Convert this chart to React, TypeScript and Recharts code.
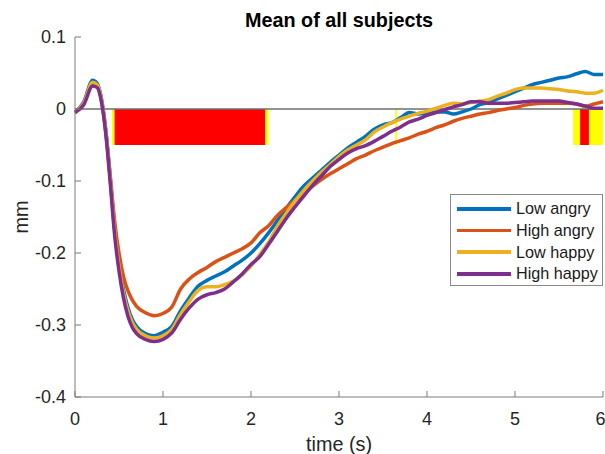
import React from "react";
import {
  LineChart,
  Line,
  XAxis,
  YAxis,
  ReferenceLine,
  ReferenceArea,
  Legend,
} from "recharts";

const times = [
  0, 0.1, 0.2, 0.25, 0.3, 0.35, 0.4, 0.45, 0.5, 0.55, 0.6, 0.65, 0.7, 0.8, 0.9,
  1.0, 1.1, 1.2, 1.3, 1.4, 1.5, 1.6, 1.7, 1.8, 1.9, 2.0, 2.1, 2.2, 2.3, 2.4,
  2.5, 2.6, 2.7, 2.8, 2.9, 3.0, 3.1, 3.2, 3.3, 3.4, 3.5, 3.6, 3.7, 3.8, 3.9,
  4.0, 4.1, 4.2, 4.3, 4.4, 4.5, 4.6, 4.7, 4.8, 4.9, 5.0, 5.1, 5.2, 5.3, 5.4,
  5.5, 5.6, 5.7, 5.8, 5.9, 6.0,
];

const lowAngry = [
  -0.005, 0.01, 0.04, 0.036, 0.015, -0.03, -0.095, -0.165, -0.215, -0.25,
  -0.275, -0.292, -0.302, -0.312, -0.315, -0.31, -0.302, -0.28, -0.262, -0.246,
  -0.238, -0.232, -0.226, -0.218, -0.21, -0.2, -0.187, -0.172, -0.155, -0.138,
  -0.122, -0.107, -0.096, -0.085, -0.074, -0.064, -0.054, -0.046, -0.038,
  -0.028, -0.022, -0.019, -0.012, -0.005, -0.007, -0.006, -0.004, -0.004,
  -0.007, -0.004, 0, 0.006, 0.009, 0.014, 0.019, 0.024, 0.029, 0.034, 0.037,
  0.04, 0.043, 0.045, 0.049, 0.052, 0.048, 0.048,
];

const highAngry = [
  -0.005, 0.008, 0.036, 0.033, 0.013, -0.03, -0.092, -0.155, -0.2, -0.232,
  -0.252, -0.265, -0.274, -0.283, -0.287, -0.284, -0.275, -0.25, -0.236,
  -0.227, -0.22, -0.212, -0.206, -0.2, -0.194, -0.186, -0.172, -0.162, -0.148,
  -0.137, -0.127, -0.117, -0.107, -0.098, -0.09, -0.083, -0.076, -0.069,
  -0.064, -0.058, -0.053, -0.048, -0.044, -0.04, -0.035, -0.031, -0.026,
  -0.022, -0.017, -0.013, -0.01, -0.007, -0.005, -0.002, 0, 0.002, 0.005,
  0.007, 0.008, 0.008, 0.008, 0.008, 0.007, 0.004, 0.007, 0.01,
];

const lowHappy = [
  -0.005, 0.008, 0.037, 0.034, 0.013, -0.032, -0.097, -0.168, -0.218, -0.255,
  -0.28, -0.296, -0.306, -0.315, -0.318, -0.315, -0.306, -0.285, -0.267,
  -0.252, -0.247, -0.247, -0.244, -0.239, -0.23, -0.218, -0.202, -0.185,
  -0.163, -0.145, -0.128, -0.113, -0.1, -0.088, -0.077, -0.066, -0.057, -0.05,
  -0.043, -0.032, -0.025, -0.019, -0.014, -0.01, -0.006, -0.003, 0.001, 0.005,
  0.008, 0.007, 0.009, 0.011, 0.013, 0.018, 0.022, 0.027, 0.029, 0.029, 0.029,
  0.028, 0.027, 0.025, 0.024, 0.022, 0.022, 0.026,
];

const highHappy = [
  -0.005, 0.006, 0.032, 0.03, 0.01, -0.035, -0.102, -0.175, -0.225, -0.262,
  -0.287, -0.303, -0.312, -0.32, -0.323, -0.32, -0.311, -0.292, -0.276,
  -0.264, -0.258, -0.255, -0.25, -0.24, -0.229, -0.216, -0.205, -0.188, -0.17,
  -0.152, -0.136, -0.121, -0.106, -0.093, -0.08, -0.07, -0.061, -0.055,
  -0.051, -0.045, -0.038, -0.031, -0.025, -0.018, -0.014, -0.009, -0.005,
  -0.001, 0.003, 0.006, 0.01, 0.01, 0.008, 0.008, 0.008, 0.009, 0.01, 0.011,
  0.011, 0.011, 0.011, 0.009, 0.007, 0.004, 0.001, 0.001,
];

// significance patches (time spans)
const yellowSpans = [
  [0.42, 2.2],
  [3.64, 3.66],
  [5.66, 6.0],
];
const redSpans = [
  [0.45, 2.16],
  [5.74, 5.84],
];

const xTicks = [0, 1, 2, 3, 4, 5, 6];
const yTicks = [-0.4, -0.3, -0.2, -0.1, 0, 0.1];

const series = [
  { key: "lowAngry", name: "Low angry", color: "#0072BD" },
  { key: "highAngry", name: "High angry", color: "#D95319" },
  { key: "lowHappy", name: "Low happy", color: "#EDB120" },
  { key: "highHappy", name: "High happy", color: "#7E2F8E" },
];

const data = times.map((t, i) => ({
  t,
  lowAngry: lowAngry[i],
  highAngry: highAngry[i],
  lowHappy: lowHappy[i],
  highHappy: highHappy[i],
}));

const FONT = "'Liberation Sans', Arial, Helvetica, sans-serif";
const AXIS = "#7a7a7a";

function renderLegend() {
  // keep plotting order (recharts sorts payload by name)
  return (
    <div
      style={{
        boxSizing: "border-box",
        width: 153,
        height: 92,
        border: "1px solid #8a8a8a",
        background: "#fff",
        paddingTop: 3,
        fontFamily: FONT,
        fontSize: 16.2,
        color: "#1a1a1a",
      }}
    >
      {series.map((s) => (
        <div
          key={s.key}
          style={{ height: 21.7, display: "flex", alignItems: "center" }}
        >
          <span
            style={{
              display: "inline-block",
              width: 54,
              height: 3.5,
              marginLeft: 6,
              marginRight: 5,
              background: s.color,
            }}
          />
          <span>{s.name}</span>
        </div>
      ))}
    </div>
  );
}

export default function App() {
  return (
    <div style={{ position: "absolute", left: 0, top: 0, background: "#fff" }}>
      <div
        style={{
          position: "absolute",
          left: 0,
          top: 9,
          width: 678,
          textAlign: "center",
          fontFamily: FONT,
          fontWeight: "bold",
          fontSize: 19.8,
          color: "#000",
          zIndex: 2,
        }}
      >
        Mean of all subjects
      </div>
      <LineChart
        width={605}
        height={454}
        data={data}
        margin={{ top: 37, right: 2, bottom: 0, left: 0 }}
        style={{ fontFamily: FONT }}
      >
        {yellowSpans.map(([a, b], i) => (
          <ReferenceArea
            key={"y" + i}
            x1={a}
            x2={b}
            y1={-0.05}
            y2={0}
            fill="#ffff00"
            fillOpacity={1}
            stroke="none"
            ifOverflow="hidden"
          />
        ))}
        {redSpans.map(([a, b], i) => (
          <ReferenceArea
            key={"r" + i}
            x1={a}
            x2={b}
            y1={-0.05}
            y2={0}
            fill="#ff0000"
            fillOpacity={1}
            stroke="none"
            ifOverflow="hidden"
          />
        ))}
        <ReferenceLine y={0} stroke="#6e6e6e" strokeWidth={1.5} />
        <XAxis
          dataKey="t"
          type="number"
          domain={[0, 6]}
          ticks={xTicks}
          height={57}
          tickSize={-6}
          tickMargin={21}
          stroke={AXIS}
          tick={{ fill: "#262626", fontSize: 18 }}
          label={{
            value: "time (s)",
            position: "center",
            dy: 18,
            fill: "#262626",
            fontSize: 19.8,
          }}
        />
        <YAxis
          type="number"
          domain={[-0.4, 0.1]}
          ticks={yTicks}
          width={75}
          tickSize={-6}
          tickMargin={15}
          stroke={AXIS}
          tick={{ fill: "#262626", fontSize: 18 }}
          tickFormatter={(v: number) => (v === 0 ? "0" : String(v))}
          label={{
            value: "mm",
            angle: -90,
            position: "center",
            dx: -17,
            fill: "#262626",
            fontSize: 19.8,
          }}
        />
        <Legend
          layout="vertical"
          align="center"
          verticalAlign="middle"
          wrapperStyle={{ left: 450, top: 194, width: 153 }}
          content={renderLegend}
        />
        {series.map((s) => (
          <Line
            key={s.key}
            type="monotone"
            dataKey={s.key}
            name={s.name}
            stroke={s.color}
            strokeWidth={3.5}
            dot={false}
            isAnimationActive={false}
          />
        ))}
      </LineChart>
    </div>
  );
}
